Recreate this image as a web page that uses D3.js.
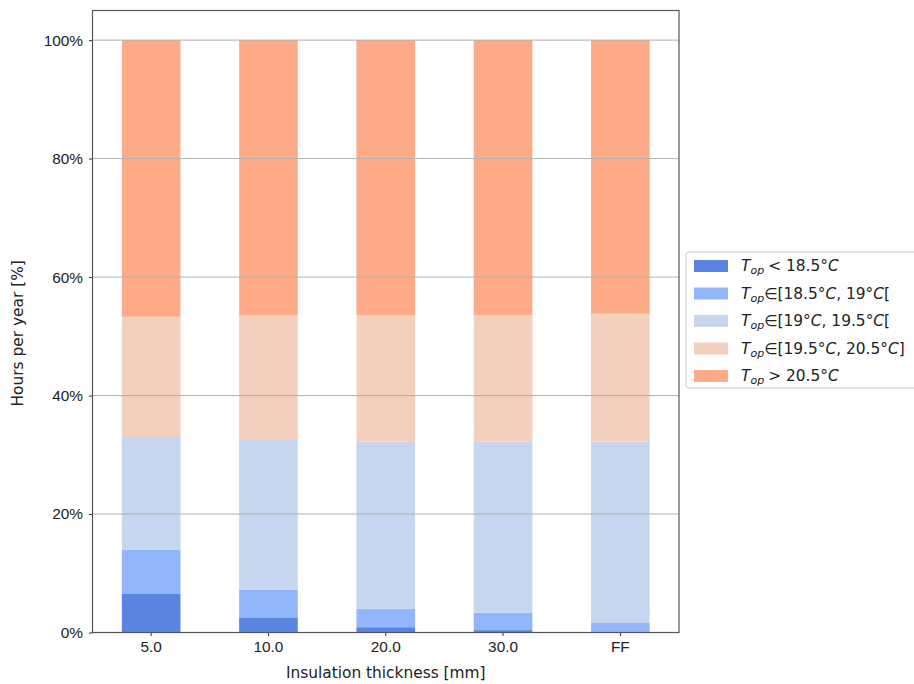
<!DOCTYPE html>
<html>
<head>
<meta charset="utf-8">
<script src="https://cdn.jsdelivr.net/npm/d3@7"></script>
<style>
  body { margin: 0; background: #fff; }
  svg { font-family: "DejaVu Sans", sans-serif; }
</style>
</head>
<body>
<svg id="chart" width="914" height="684"></svg>
<script>
// categories and stacked shares (% of hours per year)
const categories = ['5.0', '10.0', '20.0', '30.0', 'FF'];
const below185 = [6.6, 2.45, 0.9, 0.4, 0.1];
const from185to19 = [7.4, 4.75, 3.1, 2.95, 1.6];
const from19to195 = [19.0, 25.3, 28.2, 28.85, 30.5];
const from195to205 = [20.3, 21.1, 21.4, 21.4, 21.6];
const above205 = [46.7, 46.4, 46.4, 46.4, 46.2];
const yTicks = [0, 20, 40, 60, 80, 100];

const series = [
  { key: 'lt', values: below185, color: '#5b84e1', label: [['< 18.5°', 'n'], ['C', 'i']] },
  { key: 'b1', values: from185to19, color: '#92b5fc', label: [['∈[18.5°', 'n'], ['C', 'i'], [', 19°', 'n'], ['C', 'i'], ['[', 'n']] },
  { key: 'b2', values: from19to195, color: '#c6d6ef', label: [['∈[19°', 'n'], ['C', 'i'], [', 19.5°', 'n'], ['C', 'i'], ['[', 'n']] },
  { key: 'b3', values: from195to205, color: '#f3cfbd', label: [['∈[19.5°', 'n'], ['C', 'i'], [', 20.5°', 'n'], ['C', 'i'], [']', 'n']] },
  { key: 'gt', values: above205, color: '#fdab87', label: [['> 20.5°', 'n'], ['C', 'i']] }
];

const rows = categories.map((c, i) => {
  const r = { cat: c };
  series.forEach(s => { r[s.key] = s.values[i]; });
  return r;
});

const fs = 15.4;
const margin = { top: 10.5, right: 235, bottom: 51.5, left: 92.5 };
const width = 914 - margin.left - margin.right;
const height = 684 - margin.top - margin.bottom;

const svg = d3.select('#chart');
const g = svg.append('g').attr('transform', `translate(${margin.left},${margin.top})`);

const x = d3.scaleBand().domain(categories).range([0, width]).paddingInner(0.5).paddingOuter(0.25);
const y = d3.scaleLinear().domain([0, 105]).range([height, 0]);

const stack = d3.stack().keys(series.map(s => s.key));
const stacked = stack(rows);

stacked.forEach((layer, li) => {
  g.append('g')
    .selectAll('rect')
    .data(layer)
    .enter()
    .append('rect')
    .attr('x', d => x(d.data.cat))
    .attr('width', x.bandwidth())
    .attr('y', d => y(d[1]))
    .attr('height', d => y(d[0]) - y(d[1]))
    .attr('fill', series[li].color);
});

// grid on top of bars
g.append('g')
  .selectAll('line')
  .data(yTicks)
  .enter()
  .append('line')
  .attr('x1', 0)
  .attr('x2', width)
  .attr('y1', d => y(d))
  .attr('y2', d => y(d))
  .attr('stroke', '#b0b0b0')
  .attr('stroke-width', 1);

const yAxis = g.append('g')
  .call(d3.axisLeft(y).tickValues(yTicks).tickFormat(d => d + '%').tickSize(3.5).tickPadding(6));
yAxis.select('.domain').remove();
yAxis.selectAll('text').attr('font-size', fs).attr('fill', '#222');
yAxis.selectAll('line').attr('stroke', '#333');

const xAxis = g.append('g')
  .attr('transform', `translate(0,${height})`)
  .call(d3.axisBottom(x).tickSize(3.5).tickPadding(5));
xAxis.select('.domain').remove();
xAxis.selectAll('text').attr('font-size', fs).attr('fill', '#222');
xAxis.selectAll('line').attr('stroke', '#333');

// frame
g.append('rect')
  .attr('x', 0).attr('y', 0)
  .attr('width', width).attr('height', height)
  .attr('fill', 'none')
  .attr('stroke', '#555')
  .attr('stroke-width', 1.2);

svg.append('text')
  .attr('x', margin.left + width / 2)
  .attr('y', 678)
  .attr('text-anchor', 'middle')
  .attr('font-size', fs)
  .attr('fill', '#222')
  .text('Insulation thickness [mm]');

svg.append('text')
  .attr('transform', `translate(23,${margin.top + y(50.5)}) rotate(-90)`)
  .attr('text-anchor', 'middle')
  .attr('font-size', fs)
  .attr('fill', '#222')
  .text('Hours per year [%]');

// legend
const lg = svg.append('g').attr('transform', 'translate(686,252)');
lg.append('rect')
  .attr('x', 0).attr('y', 0)
  .attr('width', 240).attr('height', 136)
  .attr('rx', 3)
  .attr('fill', '#fff')
  .attr('stroke', '#ccc');

series.forEach((s, i) => {
  const row = lg.append('g').attr('transform', `translate(0,${13 + i * 27.5})`);
  row.append('rect')
    .attr('x', 8).attr('y', -5)
    .attr('width', 34).attr('height', 12)
    .attr('fill', s.color);
  const t = row.append('text')
    .attr('x', 55).attr('y', 6)
    .attr('font-size', fs)
    .attr('fill', '#222');
  t.append('tspan').attr('font-style', 'italic').text('T');
  t.append('tspan').attr('font-style', 'italic').attr('font-size', 11).attr('dy', 3).text('op');
  s.label.forEach((p, k) => {
    const sp = t.append('tspan')
      .attr('font-style', p[1] === 'i' ? 'italic' : 'normal')
      .text(p[0]);
    if (k === 0) sp.attr('dy', -3).attr('dx', p[0].startsWith('∈') ? 0 : 4);
  });
});
</script>
</body>
</html>
